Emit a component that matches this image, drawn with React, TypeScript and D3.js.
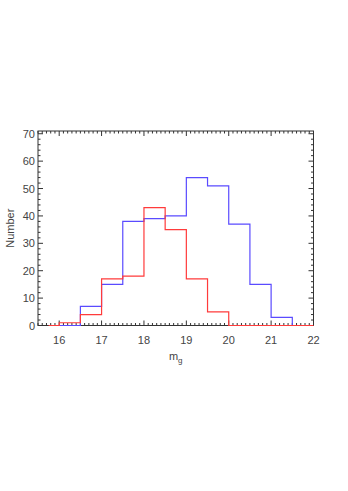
import * as d3 from "d3";
import React from "react";

// histogram bin edges and counts
const redEdges = [15.75, 16, 16.5, 17, 17.5, 18, 18.5, 19, 19.5, 20, 22];
const redCounts = [0, 1, 4, 17, 18, 43, 35, 17, 5, 0];
const blueEdges = [16, 16.5, 17, 17.5, 18, 18.5, 19, 19.5, 20, 20.5, 21, 21.5];
const blueCounts = [0, 7, 15, 38, 39, 40, 54, 51, 37, 15, 3];

const xTickValues = [16, 17, 18, 19, 20, 21, 22];
const yTickValues = [0, 10, 20, 30, 40, 50, 60, 70];

export default function App() {
  const width = 348;
  const height = 491;
  const box = { left: 38, right: 313.5, top: 131, bottom: 325.5 };

  const x = d3.scaleLinear().domain([15.5, 22]).range([box.left, box.right]);
  const y = d3.scaleLinear().domain([0, 71]).range([box.bottom, box.top]);

  const line = d3
    .line<[number, number]>()
    .x((d) => x(d[0]))
    .y((d) => y(d[1]));

  function stepPoints(edges: number[], counts: number[], dropEnd: boolean) {
    const pts: [number, number][] = [];
    counts.forEach((c, i) => {
      pts.push([edges[i], c]);
      pts.push([edges[i + 1], c]);
    });
    if (dropEnd) pts.push([edges[edges.length - 1], 0]);
    return pts;
  }

  const series = [
    { color: "#5a4bff", points: stepPoints(blueEdges, blueCounts, true) },
    { color: "#ff3b3b", points: stepPoints(redEdges, redCounts, false) },
  ];

  const xMinor = d3.range(155, 221).map((d) => d / 10);
  const yMinor = d3.range(0, 72, 2);

  const axisColor = "#333333";
  const textColor = "#444444";
  const font = "'Liberation Sans', Arial, sans-serif";

  return (
    <svg
      width={width}
      height={height}
      style={{ position: "absolute", left: 0, top: 0, background: "#fff" }}
    >
      <g stroke={axisColor} strokeWidth="1">
        {xMinor.map((d) => {
          const major = Number.isInteger(d);
          const len = major ? 5 : 2.5;
          return (
            <g key={"xt" + d}>
              <line x1={x(d)} x2={x(d)} y1={box.bottom} y2={box.bottom - len} />
              <line x1={x(d)} x2={x(d)} y1={box.top} y2={box.top + len} />
            </g>
          );
        })}
        {yMinor.map((d) => {
          const major = d % 10 === 0;
          const len = major ? 5 : 2.5;
          return (
            <g key={"yt" + d}>
              <line x1={box.left} x2={box.left + len} y1={y(d)} y2={y(d)} />
              <line x1={box.right} x2={box.right - len} y1={y(d)} y2={y(d)} />
            </g>
          );
        })}
      </g>
      <rect
        x={box.left}
        y={box.top}
        width={box.right - box.left}
        height={box.bottom - box.top}
        fill="none"
        stroke={axisColor}
        strokeWidth="1"
      />
      {series.map((s, i) => (
        <path
          key={i}
          d={line(s.points) || ""}
          fill="none"
          stroke={s.color}
          strokeWidth="1.2"
        />
      ))}
      <g fontFamily={font} fontSize="11" fill={textColor}>
        {xTickValues.map((d) => (
          <text key={"xl" + d} x={x(d)} y={box.bottom + 14} textAnchor="middle" dominantBaseline="central">
            {d}
          </text>
        ))}
        {yTickValues.map((d) => (
          <text key={"yl" + d} x={box.left - 3} y={y(d)} textAnchor="end" dominantBaseline="central">
            {d}
          </text>
        ))}
        <text
          x={0}
          y={0}
          transform={`translate(10, ${(box.top + box.bottom) / 2}) rotate(-90)`}
          textAnchor="middle"
          dominantBaseline="central"
        >
          Number
        </text>
        <text x={x(18.75)} y={box.bottom + 30} textAnchor="middle" dominantBaseline="central">
          m
          <tspan fontSize="8" dy="4">g</tspan>
        </text>
      </g>
    </svg>
  );
}
